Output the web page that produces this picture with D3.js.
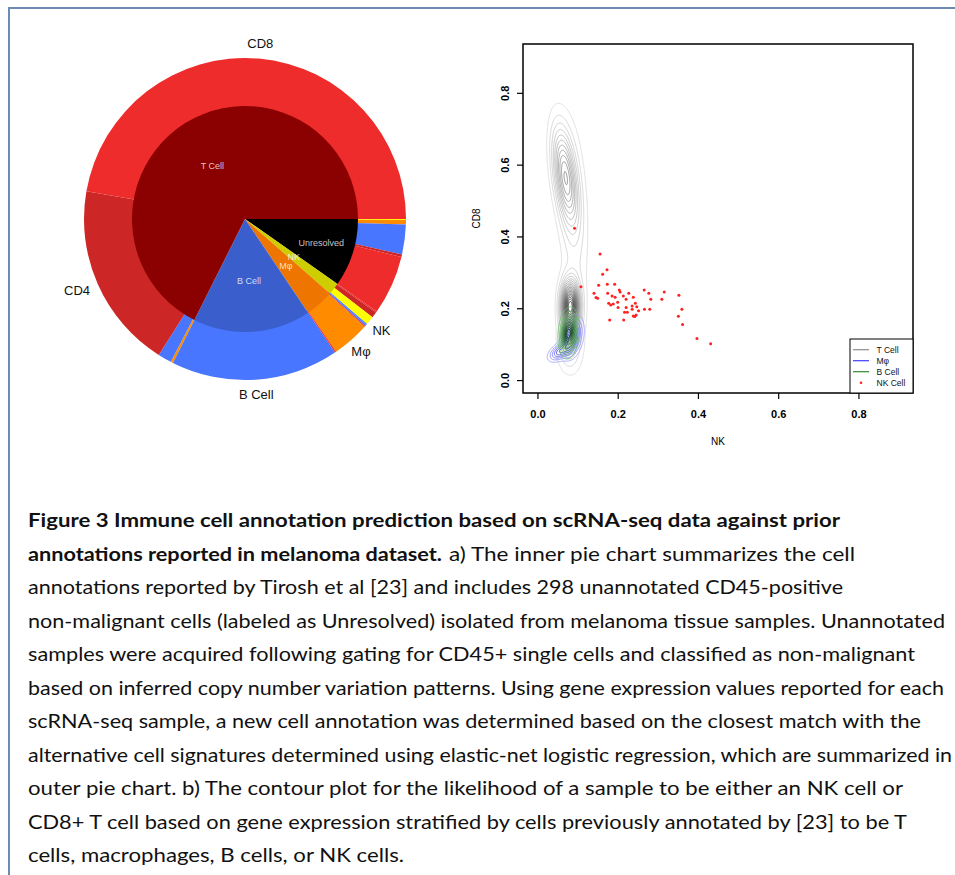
<!DOCTYPE html>
<html><head><meta charset="utf-8">
<script src="https://cdn.jsdelivr.net/npm/d3@7"></script>
<style>body{margin:0;background:#fff}svg{display:block}</style>
</head><body>
<svg id="fig" width="955" height="875"></svg>
<script>
// ---------- a) nested pie: prior annotation (inner) vs. new annotation (outer) ----------
const innerLabels = ["Unresolved", "NK", "Mφ", "B Cell", "T Cell"];
const innerCounts = [298, 52, 126, 515, 2068];
const innerColors = ["#000000", "#cdcd00", "#ee7600", "#3a5fcd", "#8b0000"];

// outer ring, clockwise from 3 o'clock, grouped by the prior annotation
const outerGroups = ["Unresolved","Unresolved","Unresolved","Unresolved","Unresolved",
                     "NK","NK","NK","NK",
                     "Mφ","Mφ","Mφ","Mφ",
                     "B Cell",
                     "T Cell","T Cell","T Cell","T Cell"];
const outerLabels = ["NK","Mφ","B Cell","CD4","CD8",
                     "CD8","CD4","NK","B Cell",
                     "B Cell","CD8","Mφ","CD8",
                     "B Cell",
                     "Mφ","B Cell","CD4","CD8"];
const outerCounts = [3, 14, 91, 8, 182,
                     4, 18, 26, 4,
                     4, 3, 115, 4,
                     515,
                     7, 42, 574, 1445];
const outerColorNames = ["CD8", "CD4", "B Cell", "Mφ", "NK"];
const outerColors = ["#ee2c2c", "#cd2626", "#4876ff", "#ff8c00", "#ffff00"];

// ---------- b) NK vs CD8 likelihood ----------
const xTicks = [0.0, 0.2, 0.4, 0.6, 0.8];
const yTicks = [0.0, 0.2, 0.4, 0.6, 0.8];

// Gaussian summaries of each prior group's score cloud (x = NK, y = CD8)
const tCellModes = [
  {x: 0.068, y: 0.570, sx: 0.021, sy: 0.090, r: -0.45, w: 0.40},
  {x: 0.081, y: 0.205, sx: 0.015, sy: 0.045, r: 0.0,  w: 0.32},
  {x: 0.090, y: 0.420, sx: 0.025, sy: 0.200, r: -0.2, w: 0.25},
  {x: 0.078, y: 0.090, sx: 0.020, sy: 0.045, r: 0.0,  w: 0.07}
];
const macroModes = [
  {x: 0.086, y: 0.120, sx: 0.015, sy: 0.032, r: 0.3, w: 0.70},
  {x: 0.055, y: 0.080, sx: 0.017, sy: 0.016, r: 0.5, w: 0.25}
];
const bCellModes = [
  {x: 0.077, y: 0.130, sx: 0.011, sy: 0.030, r: 0.2, w: 1.0},
  {x: 0.078, y: 0.140, sx: 0.018, sy: 0.045, r: 0.0, w: 0.3}
];

// cells annotated as NK: (NK score, CD8 score)
const nkX = [0.0925,0.156,0.1735,0.1625,0.1085,0.1525,0.174,0.1925,0.141,0.146,0.150,0.175,0.186,
             0.1935,0.204,0.206,0.214,0.2275,0.239,0.1775,0.1825,0.189,0.200,0.221,0.201,0.221,
             0.217,0.224,0.236,0.236,0.244,0.2475,0.252,0.246,0.239,0.2425,0.266,0.2775,0.2825,
             0.2668,0.280,0.310,0.316,0.3525,0.360,0.3513,0.3617,0.180,0.215,0.3975,0.4317];
const nkY = [0.423,0.351,0.307,0.295,0.260,0.264,0.267,0.267,0.242,0.230,0.228,0.242,0.234,
             0.231,0.251,0.245,0.234,0.242,0.231,0.214,0.209,0.212,0.217,0.225,0.202,0.202,
             0.189,0.189,0.2065,0.197,0.214,0.2045,0.193,0.181,0.1786,0.177,0.251,0.242,0.225,
             0.197,0.197,0.225,0.245,0.236,0.197,0.178,0.155,0.1675,0.1675,0.116,0.1015];

const legendLabels = ["T Cell", "Mφ", "B Cell", "NK Cell"];
const legendColors = ["#8c8c8c", "#3d3dff", "#2e8b2e", "#ff2020"];

const captionLines = [
  "annotations reported by Tirosh et al [23] and includes 298 unannotated CD45-positive",
  "non-malignant cells (labeled as Unresolved) isolated from melanoma tissue samples. Unannotated",
  "samples were acquired following gating for CD45+ single cells and classified as non-malignant",
  "based on inferred copy number variation patterns. Using gene expression values reported for each",
  "scRNA-seq sample, a new cell annotation was determined based on the closest match with the",
  "alternative cell signatures determined using elastic-net logistic regression, which are summarized in",
  "outer pie chart. b) The contour plot for the likelihood of a sample to be either an NK cell or",
  "CD8+ T cell based on gene expression stratified by cells previously annotated by [23] to be T",
  "cells, macrophages, B cells, or NK cells."
];
const captionLineEnds = [843, 945, 915, 944, 921, 952, 903, 907, 404];

// =====================================================================
const svg = d3.select("#fig");
const SANS = "'Liberation Sans', Arial, Helvetica, sans-serif";

// panel frame
svg.append("path")
  .attr("d", "M9,875V8H955")
  .attr("fill", "none").attr("stroke", "#6b8ab4").attr("stroke-width", 2);

// ---------- pie ----------
const cx = 245, cy = 219, rIn = 113, rOut = 161;
const pie = d3.pie().sort(null).value(d => d.v)
  .startAngle(Math.PI / 2).endAngle(Math.PI / 2 + 2 * Math.PI);
const outerColor = d3.scaleOrdinal().domain(outerColorNames).range(outerColors);

const innerData = innerLabels.map((l, i) => ({label: l, v: innerCounts[i], color: innerColors[i]}));
const outerData = outerLabels.map((l, i) => ({label: l, group: outerGroups[i], v: outerCounts[i]}));

const gPie = svg.append("g").attr("transform", `translate(${cx},${cy})`);
const outerArcs = pie(outerData);
gPie.selectAll("path.outer").data(outerArcs).join("path")
  .attr("class", "outer")
  .attr("d", d3.arc().innerRadius(rIn - 2).outerRadius(rOut))
  .attr("fill", d => outerColor(d.data.label));

const innerArcs = pie(innerData);
gPie.selectAll("path.inner").data(innerArcs).join("path")
  .attr("class", "inner")
  .attr("d", d3.arc().innerRadius(0).outerRadius(rIn))
  .attr("fill", d => d.data.color);

// inner labels
gPie.selectAll("text.inner").data(innerArcs).join("text")
  .attr("class", "inner")
  .attr("transform", d => {
    const r = d.data.label === "Unresolved" ? 80 : 62;
    const c = d3.arc().innerRadius(r).outerRadius(r).centroid(d);
    return `translate(${c[0]},${c[1]})`;
  })
  .attr("text-anchor", "middle").attr("dy", "0.35em")
  .attr("font-family", SANS).attr("font-size", 9)
  .attr("fill", "#fff").attr("fill-opacity", 0.78)
  .text(d => d.data.label);

// outer labels: each new annotation labelled at its largest segment
const largest = d3.rollup(outerArcs, v => d3.greatest(v, a => a.data.v), a => a.data.label);
const labelArc = d3.arc().innerRadius(176).outerRadius(176);
gPie.selectAll("text.outer").data(Array.from(largest.values())).join("text")
  .attr("class", "outer")
  .attr("transform", d => {
    const c = labelArc.centroid(d);
    // labels well left of centre sit a little further out
    if (c[0] < -120) c[0] -= 7;
    return `translate(${c})`;
  })
  .attr("text-anchor", "middle").attr("dy", "0.35em")
  .attr("font-family", SANS).attr("font-size", 13).attr("fill", "#111")
  .text(d => d.data.label);

// ---------- contour plot ----------
const plotL = 523, plotR = 913, plotT = 44, plotB = 393;
const xScale = d3.scaleLinear().domain([-0.036, 0.936]).range([plotL, plotR]);
const yScale = d3.scaleLinear().domain([-0.036, 0.936]).range([plotB, plotT]);

const gPlot = svg.append("g");
svg.append("defs").append("clipPath").attr("id", "plotClip")
  .append("rect").attr("x", plotL).attr("y", plotT)
  .attr("width", plotR - plotL).attr("height", plotB - plotT);

// density grid
const gx0 = -0.036, gx1 = 0.26, gyTop = 0.936, gyBot = -0.036;
const nx = 260, ny = 560;
const dx = (gx1 - gx0) / (nx - 1), dy = (gyTop - gyBot) / (ny - 1);

function densityGrid(modes) {
  const vals = new Float64Array(nx * ny);
  for (let j = 0; j < ny; j++) {
    const y = gyTop - j * dy;
    for (let i = 0; i < nx; i++) {
      const x = gx0 + i * dx;
      let s = 0;
      for (const m of modes) {
        const zx = (x - m.x) / m.sx, zy = (y - m.y) / m.sy;
        const q = (zx * zx - 2 * m.r * zx * zy + zy * zy) / (1 - m.r * m.r);
        s += m.w / (2 * Math.PI * m.sx * m.sy * Math.sqrt(1 - m.r * m.r)) * Math.exp(-0.5 * q);
      }
      vals[i + j * nx] = s;
    }
  }
  return vals;
}

const gridPath = d3.geoPath(d3.geoTransform({
  point(x, y) { this.stream.point(xScale(gx0 + x * dx), yScale(gyTop - y * dy)); }
}));

function drawContours(modes, nLevels, cLow, cHigh, width) {
  const vals = densityGrid(modes);
  const mx = d3.max(vals);
  const thresholds = d3.range(1, nLevels + 1).map(k => k * mx / (nLevels + 1));
  const shade = d3.scaleLinear().domain([0, nLevels - 1]).range([cLow, cHigh]).interpolate(d3.interpolateRgb);
  const contours = d3.contours().size([nx, ny]).thresholds(thresholds)(vals);
  gPlot.append("g").attr("clip-path", "url(#plotClip)")
    .selectAll("path").data(contours).join("path")
    .attr("d", gridPath)
    .attr("fill", "none")
    .attr("stroke", (d, i) => shade(i))
    .attr("stroke-width", width);
}

drawContours(tCellModes, 20, "#d4d4d4", "#1a1a1a", 0.75);
drawContours(macroModes, 7, "#9c9cff", "#1414e0", 0.85);
drawContours(bCellModes, 12, "#6cbf6c", "#003a00", 0.95);

// NK cells
gPlot.append("g").selectAll("circle").data(nkX).join("circle")
  .attr("cx", d => xScale(d)).attr("cy", (d, i) => yScale(nkY[i]))
  .attr("r", 1.5).attr("fill", "#ff2020");

// axes
const xAxis = svg.append("g").attr("transform", `translate(0,${plotB})`)
  .call(d3.axisBottom(xScale).tickValues(xTicks).tickFormat(d3.format(".1f")).tickSize(6).tickPadding(11));
const yAxis = svg.append("g").attr("transform", `translate(${plotL},0)`)
  .call(d3.axisLeft(yScale).tickValues(yTicks).tickFormat(d3.format(".1f")).tickSize(6));
[xAxis, yAxis].forEach(a => {
  a.select(".domain").remove();
  a.selectAll("line").attr("stroke", "#000").attr("stroke-width", 1.2);
  a.selectAll("text").attr("font-family", SANS).attr("font-size", 11)
    .attr("font-weight", "bold").attr("fill", "#000");
});
yAxis.selectAll("text")
  .attr("transform", "rotate(-90)")
  .attr("x", 0).attr("y", -14).attr("dy", 0).attr("text-anchor", "middle");

// plot box
svg.append("rect").attr("x", plotL).attr("y", plotT)
  .attr("width", plotR - plotL).attr("height", plotB - plotT)
  .attr("fill", "none").attr("stroke", "#000").attr("stroke-width", 1.5);

// axis titles
svg.append("text").attr("x", (plotL + plotR) / 2).attr("y", 445)
  .attr("text-anchor", "middle").attr("font-family", SANS).attr("font-size", 10)
  .text("NK");
svg.append("text").attr("transform", `translate(480,${(plotT + plotB) / 2}) rotate(-90)`)
  .attr("text-anchor", "middle").attr("font-family", SANS).attr("font-size", 10)
  .text("CD8");

// legend
const lg = svg.append("g");
lg.append("rect").attr("x", 850).attr("y", 339).attr("width", plotR - 850).attr("height", plotB - 339)
  .attr("fill", "#fff").attr("stroke", "#000").attr("stroke-width", 1);
legendLabels.forEach((lab, i) => {
  const y = 349.7 + i * 11;
  if (i < 3) {
    lg.append("line").attr("x1", 853).attr("x2", 869).attr("y1", y).attr("y2", y)
      .attr("stroke", legendColors[i]).attr("stroke-width", 1.2);
  } else {
    lg.append("circle").attr("cx", 861).attr("cy", y).attr("r", 1.3).attr("fill", legendColors[i]);
  }
  lg.append("text").attr("x", 876.5).attr("y", y).attr("dy", "0.35em")
    .attr("font-family", SANS).attr("font-size", 8.5).attr("fill", "#111").text(lab);
});

// ---------- caption ----------
const CAP = "'Lato', 'Open Sans', sans-serif";
const capX = 28, capY0 = 527, capStep = 33.5;
svg.append("text").attr("x", capX).attr("y", capY0)
  .attr("font-family", CAP).attr("font-size", 19).attr("font-weight", 700).attr("fill", "#111")
  .attr("textLength", 840 - capX).attr("lengthAdjust", "spacingAndGlyphs")
  .text("Figure 3 Immune cell annotation prediction based on scRNA-seq data against prior");
svg.append("text").attr("x", capX).attr("y", capY0 + capStep)
  .attr("font-family", CAP).attr("font-size", 19).attr("font-weight", 700).attr("fill", "#111")
  .attr("textLength", 442 - capX).attr("lengthAdjust", "spacingAndGlyphs")
  .text("annotations reported in melanoma dataset.");
svg.append("text").attr("x", 449).attr("y", capY0 + capStep)
  .attr("font-family", CAP).attr("font-size", 19).attr("fill", "#111")
  .attr("textLength", 855 - 449).attr("lengthAdjust", "spacingAndGlyphs")
  .text("a) The inner pie chart summarizes the cell");
captionLines.forEach((t, i) => {
  svg.append("text").attr("x", capX).attr("y", capY0 + capStep * (i + 2))
    .attr("font-family", CAP).attr("font-size", 19).attr("fill", "#111")
    .attr("textLength", captionLineEnds[i] - capX).attr("lengthAdjust", "spacingAndGlyphs")
    .text(t);
});
</script>
</body></html>
